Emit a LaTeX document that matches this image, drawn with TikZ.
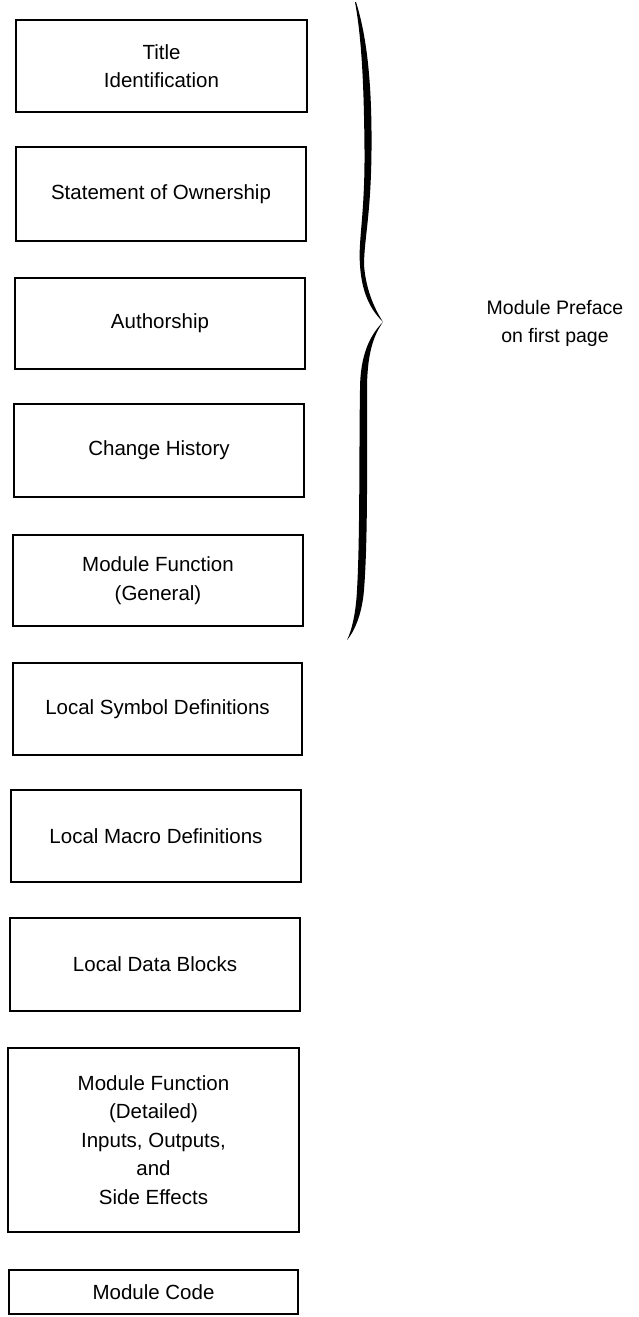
\documentclass[tikz,border=0pt]{standalone}
\usepackage{fontspec}
\setmainfont{Liberation Sans}
\begin{document}
\begin{tikzpicture}[x=1pt,y=-1pt,
  blk/.style={draw=black, line width=1.8pt, inner sep=0pt, align=center,
    font=\fontsize{20.5}{28.4}\selectfont},
  lbl/.style={align=center, inner sep=0pt, font=\fontsize{19.5}{28}\selectfont}]
\useasboundingbox (0,0) rectangle (638,1317);
% boxes: (left,top) rectangle (right,bottom)
\newcommand{\mybox}[6]{%
  \node[blk, minimum width={(#4-#2)*1pt}, minimum height={(#5-#3)*1pt}] (#1) at ({(#2+#4)/2},{(#3+#5)/2}) {#6};}
\mybox{b1}{16}{20}{307}{112}{Title\\Identification}
\mybox{b2}{16}{147}{306}{241}{Statement of Ownership}
\mybox{b3}{15}{278}{305}{369}{Authorship}
\mybox{b4}{14}{404}{304}{497}{Change History}
\mybox{b5}{13}{535}{303}{626}{Module Function\\(General)}
\mybox{b6}{13}{663}{302}{755}{Local Symbol Definitions}
\mybox{b7}{11}{790}{301}{882}{Local Macro Definitions}
\mybox{b8}{10}{918}{300}{1011}{Local Data Blocks}
\mybox{b9}{8}{1048}{299}{1232}{Module Function\\(Detailed)\\Inputs, Outputs,\\and\\Side Effects}
\mybox{b10}{9}{1270}{298}{1314}{Module Code}
% brace
\fill[black] (356,2) .. controls (368,40) and (372,90) .. (371.5,150)
  .. controls (371,215) and (364,240) .. (364,265)
  .. controls (366,292) and (376,311) .. (383,322)
  .. controls (373,336) and (367,355) .. (367,390)
  .. controls (367,450) and (368,540) .. (364,590)
  .. controls (362,615) and (354,632) .. (347,640)
  .. controls (352,630) and (356,612) .. (357,590)
  .. controls (360,540) and (359,450) .. (360,390)
  .. controls (360,355) and (370,335) .. (383,322)
  .. controls (374,313) and (362,298) .. (360,265)
  .. controls (358,240) and (365,215) .. (364.5,150)
  .. controls (364,90) and (362,40) .. (355,2) -- cycle;
\node[lbl] (pref) at (555,323) {Module Preface\\on first page};
\end{tikzpicture}
\end{document}
